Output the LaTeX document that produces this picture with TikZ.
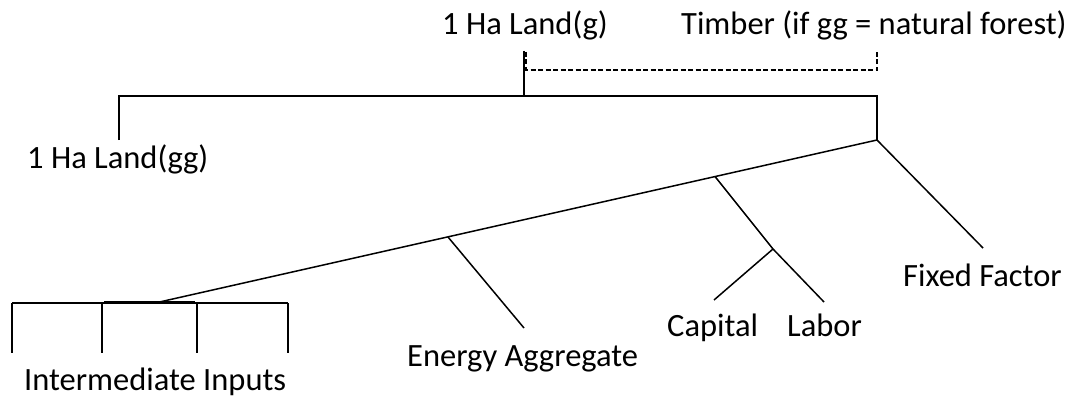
\documentclass[tikz,border=0pt]{standalone}
\usepackage{fontspec}
\setmainfont{Carlito}
\begin{document}
\begin{tikzpicture}[x=1pt,y=-1pt,
  lbl/.style={anchor=base west, inner sep=0pt, font=\fontsize{32.5}{38}\selectfont},
  conn/.style={draw=black, line width=1.5pt},
  dashconn/.style={draw=black, line width=1.2pt, dash pattern=on 5pt off 2.5pt}]
\useasboundingbox (0,0) rectangle (1076,396);
% labels
\node[lbl] (landg) at (442,35) {1 Ha Land(g)};
\node[lbl] (timber) at (681,35) {Timber (if gg = natural forest)};
\node[lbl] (landgg) at (27,168) {1 Ha Land(gg)};
\node[lbl] (fixed) at (903,286) {Fixed Factor};
\node[lbl] (energy) at (407,366) {Energy Aggregate};
\node[lbl] (capital) at (667,336) {Capital};
\node[lbl] (labor) at (787,336) {Labor};
\node[lbl] (inter) at (24,390) {Intermediate Inputs};
% coordinates
\coordinate (gtop) at (524,51);
\coordinate (gbar) at (524,96);
\coordinate (tL) at (526,52);
\coordinate (tLb) at (526,70);
\coordinate (tRb) at (877,70);
\coordinate (tR) at (877,52);
\coordinate (bL) at (119,96);
\coordinate (bLd) at (119,140);
\coordinate (bR) at (877,96);
\coordinate (nest) at (877,140);
\coordinate (ii) at (155,303);
\coordinate (fend) at (983,248);
\coordinate (ej) at (448,237);
\coordinate (ee) at (524,328);
\coordinate (kj) at (715,176.5);
\coordinate (klj) at (773,249);
\coordinate (kend) at (714,300);
\coordinate (lend) at (824,302);
\coordinate (i1) at (12,303);
\coordinate (i2) at (102,303);
\coordinate (i3) at (197,303);
\coordinate (i4) at (288,303);
\coordinate (i1d) at (12,353);
\coordinate (i2d) at (102,353);
\coordinate (i3d) at (197,353);
\coordinate (i4d) at (288,353);
\coordinate (m1) at (104,301.5);
\coordinate (m2) at (195,301.5);
% top
\draw[conn] (gtop) -- (gbar);
\draw[dashconn] (tL) -- (tLb) -- (tRb) -- (tR);
\draw[conn] (bLd) -- (bL) -- (bR) -- (nest);
% nest branches
\draw[conn] (nest) -- (ii);
\draw[conn] (nest) -- (fend);
\draw[conn] (ej) -- (ee);
\draw[conn] (kj) -- (klj) -- (lend);
\draw[conn] (klj) -- (kend);
% intermediate inputs
\draw[conn] (i1) -- (i4);
\draw[conn] (m1) -- (m2);
\draw[conn] (i1) -- (i1d);
\draw[conn] (i2) -- (i2d);
\draw[conn] (i3) -- (i3d);
\draw[conn] (i4) -- (i4d);
\end{tikzpicture}
\end{document}
